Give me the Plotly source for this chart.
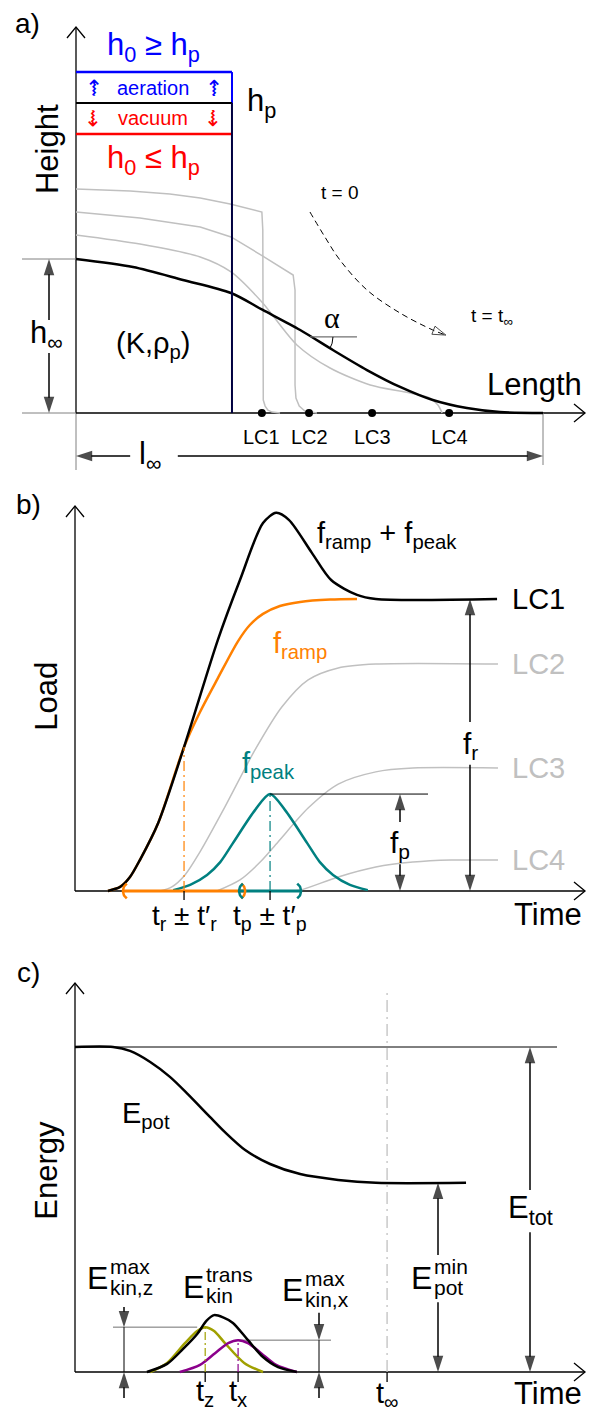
import numpy as np
import plotly.graph_objects as go

W, H = 589, 1414
FONT = "Liberation Sans"

# ---------------- Panel a: length in % of l_inf, height in % of h_inf ----------------
l_inf = 100.0
h_inf = 100.0
h_aer = 221.4      # top of aeration zone
h_p = 201.3        # plug height h_p
h_vac = 181.2      # bottom of vacuum zone
x_wall = 33.4      # column wall

final_x = [0, 12.2, 22.9, 33.2, 40.0, 48.0, 55.0, 62.3, 69.4, 76.4, 83.7, 90.8, 100]
final_y = [100, 94.8, 86.4, 77.9, 66.9, 53.9, 40.9, 27.9, 16.9, 8.4, 3.2, 0.6, 0]

lc1_x = [0, 11.6, 20.1, 26.6, 33.0, 39.8, 40.0, 40.0, 40.1, 40.5, 41.1, 42.0, 43.7]
lc1_y = [145.5, 144.2, 142.2, 139.6, 135.7, 130.5, 118.8, 14.9, 8.4, 4.5, 1.9, 0.6, 0]
lc2_x = [0, 13.7, 26.6, 33.2, 40.0, 46.5, 46.9, 46.9, 47.1, 47.8, 49.0, 51.6]
lc2_y = [130.5, 126.6, 120.8, 114.3, 101.9, 89.6, 79.9, 18.2, 9.7, 4.5, 1.3, 0]
lc3_x = [0, 13.7, 26.6, 33.2, 39.8, 47.3, 54.4, 63.0, 71.5, 75.8, 77.5, 78.4]
lc3_y = [115.6, 109.7, 101.3, 91.6, 72.1, 44.2, 29.2, 18.2, 13.0, 9.7, 5.2, 0]

time_arrow_x = [50.1, 53.3, 56.5, 62.3, 69.4, 76.4, 79.2]
time_arrow_y = [130.5, 114.3, 99.4, 79.9, 64.9, 53.9, 50.6]

lc_names = ["LC1", "LC2", "LC3", "LC4"]
lc_pos = [39.8, 49.9, 63.4, 79.9]

alpha_x, alpha_y, alpha_deg = 50.1, 49.4, 31.0

# ---------------- Panel b: time units, load in units of f_r ----------------
f_r = 1.0
f_p = 0.332
t_r, dt_r = 2.32, 1.30
t_p, dt_p = 4.15, 0.66

sum_x = [0.70, 0.96, 1.17, 1.38, 1.77, 2.32, 3.04, 3.51, 4.00, 4.28, 4.55, 5.04, 5.45, 6.00, 6.40, 8.98]
sum_y = [0, 0.014, 0.048, 0.106, 0.233, 0.493, 0.860, 1.065, 1.260, 1.295, 1.271, 1.158, 1.065, 1.014, 1.0, 1.0]
ramp_x = [0.70, 0.96, 1.17, 1.38, 1.77, 2.32, 2.66, 3.04, 3.47, 3.72, 4.00, 4.36, 4.79, 5.43, 6.00]
ramp_y = [0, 0.014, 0.048, 0.106, 0.233, 0.493, 0.613, 0.729, 0.856, 0.911, 0.949, 0.976, 0.990, 0.998, 1.0]
peak_x = [2.09, 2.45, 2.81, 3.09, 3.36, 3.83, 4.15, 4.47, 4.94, 5.21, 5.49, 5.85, 6.23]
peak_y = [0.003, 0.021, 0.055, 0.099, 0.164, 0.277, 0.332, 0.277, 0.164, 0.099, 0.055, 0.021, 0.003]
b_lc2_x = [1.81, 2.06, 2.34, 2.66, 3.19, 3.83, 4.40, 4.96, 5.60, 6.40, 9.00]
b_lc2_y = [0, 0.014, 0.055, 0.134, 0.288, 0.483, 0.630, 0.723, 0.764, 0.777, 0.777]
b_lc3_x = [3.02, 3.51, 3.94, 4.32, 4.96, 5.60, 6.40, 7.19, 9.00]
b_lc3_y = [0, 0.038, 0.099, 0.168, 0.284, 0.366, 0.408, 0.421, 0.421]
b_lc4_x = [4.57, 4.79, 5.60, 6.40, 7.19, 8.00, 9.00]
b_lc4_y = [0, 0.003, 0.048, 0.082, 0.099, 0.106, 0.106]
b_lc_levels = [1.0, 0.777, 0.421, 0.106]

# ---------------- Panel c: time units, energy in units of E_tot ----------------
E_tot = 1.0
E_pot_min = 0.582
t_z, t_x, t_inf = 2.77, 3.47, 6.64
Ekz_max, Ekx_max = 0.138, 0.098

epot_x = [0, 0.81, 1.17, 1.60, 2.02, 2.40, 2.87, 3.19, 3.62, 4.15, 4.79, 5.60, 6.40, 8.32]
epot_y = [1.0, 1.0, 0.988, 0.954, 0.908, 0.855, 0.785, 0.738, 0.683, 0.640, 0.609, 0.591, 0.582, 0.582]
ekin_x = [1.53, 1.96, 2.30, 2.60, 2.80, 2.96, 3.15, 3.36, 3.68, 4.00, 4.32, 4.72]
ekin_y = [0, 0.025, 0.071, 0.117, 0.158, 0.175, 0.168, 0.151, 0.098, 0.046, 0.015, 0]
ekz_x = [1.60, 1.96, 2.34, 2.60, 2.77, 2.96, 3.19, 3.60, 4.00]
ekz_y = [0, 0.028, 0.089, 0.126, 0.138, 0.126, 0.089, 0.028, 0]
ekx_x = [2.23, 2.66, 2.98, 3.26, 3.47, 3.68, 3.96, 4.28, 4.72]
ekx_y = [0, 0.022, 0.058, 0.089, 0.098, 0.089, 0.058, 0.022, 0]

ORANGE = "#ff8000"
TEAL = "#008080"
OLIVE = "#a0a000"
PURPLE = "#8b008b"
GRAY = "#c0c0c0"
BLUE = "#0000ff"
RED = "#ff0000"
NAVY = "#000040"

# ---------------- layout of the three panels (pixel frames) ----------------
P = {
    'a': dict(ox=76, oy=413, sx=4.67, sy=1.54, top=0, bottom=480, xa='x', ya='y'),
    'b': dict(ox=75, oy=891, sx=47.0, sy=292.0, top=480, bottom=950, xa='x2', ya='y2'),
    'c': dict(ox=75, oy=1372, sx=47.0, sy=325.0, top=950, bottom=1414, xa='x3', ya='y3'),
}

fig = go.Figure()


def dxp(p, px):
    return px / P[p]['sx']


def dyp(p, px):
    return px / P[p]['sy']


def line(p, xs, ys, color='black', width=1.5, dash=None, shape='linear', smoothing=1.0):
    fig.add_trace(go.Scatter(
        x=xs, y=ys, mode='lines', xaxis=P[p]['xa'], yaxis=P[p]['ya'],
        line=dict(color=color, width=width, dash=dash, shape=shape, smoothing=smoothing),
        hoverinfo='skip', showlegend=False))


def text(p, x, y, s, size=28, color='black', xanchor='center', yanchor='middle',
         angle=0, family=FONT, xshift=0, yshift=0):
    fig.add_annotation(x=x, y=y, xref=P[p]['xa'], yref=P[p]['ya'], text=s, showarrow=False,
                       font=dict(family=family, size=size, color=color),
                       xanchor=xanchor, yanchor=yanchor, textangle=angle,
                       xshift=xshift, yshift=yshift)


def arrow(p, x0, y0, x1, y1, color='black', width=1.5):
    fig.add_trace(go.Scatter(
        x=[x0, x1], y=[y0, y1], mode='lines+markers', xaxis=P[p]['xa'], yaxis=P[p]['ya'],
        line=dict(color=color, width=width),
        marker=dict(symbol='arrow', size=[0, 17], angleref='previous', color=color,
                    line=dict(width=0)),
        hoverinfo='skip', showlegend=False))


def axis_head(p, x, y, direction):
    if direction == 'up':
        xs = [x - dxp(p, 9), x, x + dxp(p, 9)]
        ys = [y - dyp(p, 11), y, y - dyp(p, 11)]
    else:
        xs = [x - dxp(p, 11), x, x - dxp(p, 11)]
        ys = [y + dyp(p, 9), y, y - dyp(p, 9)]
    line(p, xs, ys, width=1.3)


def stacked(p, x, y, base, sup, sub, size=32, ssize=21, yshift_sup=12, yshift_sub=-9):
    text(p, x, y, base, size, xanchor='right')
    text(p, x, y, sup, ssize, xanchor='left', yshift=yshift_sup, xshift=-2)
    text(p, x, y, sub, ssize, xanchor='left', yshift=yshift_sub, xshift=-2)


def bracket(p, x, y, side, color):
    r = 9.0
    if side == 'left':
        th = np.radians(np.linspace(125, 235, 20))
        cx = x + dxp(p, r)
    else:
        th = np.radians(np.linspace(-55, 55, 20))
        cx = x - dxp(p, r)
    line(p, list(cx + dxp(p, r) * np.cos(th)), list(y + dyp(p, r) * np.sin(th)), color=color, width=2.5)


# ======================= Panel a =======================
a_top = P['a']['oy'] / P['a']['sy'] - dyp('a', 27)
a_right = (585 - P['a']['ox']) / P['a']['sx']
a_left_ext = -dxp('a', 54)
a_low = -dyp('a', 57)
line('a', [0, 0], [a_low, 0], color='#808080', width=1)
line('a', [0, 0], [0, a_top], width=1.3)
axis_head('a', 0, a_top, 'up')
line('a', [a_left_ext, 0], [0, 0], color='#808080', width=1)
line('a', [0, a_right], [0, 0], width=1.5)
axis_head('a', a_right, 0, 'right')
line('a', [a_left_ext, 0], [h_inf, h_inf], color='#808080', width=1)
line('a', [l_inf, l_inf], [0, -dyp('a', 52)], color='#808080', width=1)

# gray intermediate profiles and final profile
line('a', lc1_x, lc1_y, color=GRAY, width=1.5)
line('a', lc2_x, lc2_y, color=GRAY, width=1.5)
line('a', lc3_x, lc3_y, color=GRAY, width=1.5, shape='spline', smoothing=0.8)
line('a', final_x, final_y, width=2.5, shape='spline', smoothing=0.8)

# column
line('a', [0, x_wall], [h_aer, h_aer], color=BLUE, width=2.5)
line('a', [x_wall, x_wall], [h_p, h_aer], color=BLUE, width=2)
line('a', [0, x_wall], [h_p, h_p], width=2)
line('a', [0, x_wall], [h_vac, h_vac], color=RED, width=2.5)
line('a', [x_wall, x_wall], [0, h_p], color=NAVY, width=2)

# LC markers
fig.add_trace(go.Scatter(x=lc_pos, y=[0] * len(lc_pos), mode='markers', xaxis='x', yaxis='y',
                         marker=dict(color='black', size=8), hoverinfo='skip', showlegend=False))
for nm, xp in zip(lc_names, lc_pos):
    text('a', xp, -dyp('a', 24), nm, 20)

# time arrow (dashed)
line('a', time_arrow_x, time_arrow_y, width=1, dash='6px,4px', shape='spline')
fig.add_trace(go.Scatter(x=time_arrow_x[-2:], y=time_arrow_y[-2:], mode='markers', xaxis='x', yaxis='y',
                         marker=dict(symbol='arrow-open', size=[0, 14], angleref='previous',
                                     color='black', line=dict(width=1, color='black')),
                         hoverinfo='skip', showlegend=False))
text('a', 56.5, 142.9, "t = 0", 19)
text('a', 89.1, 62.3, "t = t<sub>∞</sub>", 19)

# alpha
line('a', [alpha_x, alpha_x + dxp('a', 47)], [alpha_y, alpha_y], color='#707070', width=1.3)
th = np.radians(np.linspace(0, alpha_deg, 15))
line('a', list(alpha_x + dxp('a', 23) * np.cos(th)), list(alpha_y - dyp('a', 23) * np.sin(th)), width=1)
text('a', 54.8, 62.3, "α", 30, family="Liberation Serif")

# dimension arrows
hx = -dxp('a', 27)
arrow('a', hx, 60.4, hx, h_inf)
arrow('a', hx, 39.0, hx, 0)
text('a', -6.4, 50.6, "h<sub>∞</sub>", 31)
ly = -dyp('a', 43)
arrow('a', 11.6, ly, 0, ly)
arrow('a', 21.8, ly, l_inf, ly)
text('a', 15.8, ly, "l<sub>∞</sub>", 31)

# labels
text('a', -10.3, 253.2, "a)", 28)
text('a', -6.2, 171.4, "Height", 31, angle=-90)
text('a', 16.5, 237.7, "h<sub>0</sub> ≥ h<sub>p</sub>", 31, color=BLUE)
text('a', 16.5, 211.0, "aeration", 20, color=BLUE)
text('a', 16.5, 191.6, "vacuum", 20, color=RED)
for xa_ in (3.6, 29.3):
    text('a', xa_, 211.0, "⇝", 22, color=BLUE, angle=-90, family="DejaVu Sans")
    text('a', xa_, 191.6, "⇝", 22, color=RED, angle=90, family="DejaVu Sans")
text('a', 16.5, 164.3, "h<sub>0</sub> ≤ h<sub>p</sub>", 31, color=RED)
text('a', 36.2, h_p, "h<sub>p</sub>", 31, xanchor='left')
text('a', 16.5, 44.2, "(K,ρ<sub>p</sub>)", 29)
text('a', 98.1, 18.2, "Length", 31)

# ======================= Panel b =======================
b_top = dyp('b', 891 - 506)
b_right = dxp('b', 585 - 75)
line('b', [0, 0], [0, b_top], width=1.3)
axis_head('b', 0, b_top, 'up')
line('b', [0, b_right], [0, 0], width=1.5)
axis_head('b', b_right, 0, 'right')

line('b', b_lc2_x, b_lc2_y, color=GRAY, width=1.5, shape='spline', smoothing=0.8)
line('b', b_lc3_x, b_lc3_y, color=GRAY, width=1.5, shape='spline', smoothing=0.8)
line('b', b_lc4_x, b_lc4_y, color=GRAY, width=1.5, shape='spline', smoothing=0.8)
line('b', ramp_x, ramp_y, color=ORANGE, width=2.5, shape='spline', smoothing=0.8)
line('b', sum_x, sum_y, width=2.5, shape='spline', smoothing=0.8)
line('b', peak_x, peak_y, color=TEAL, width=2.5, shape='spline', smoothing=0.8)

# intervals on the time axis
line('b', [t_r - dt_r, t_r + dt_r], [0, 0], color=ORANGE, width=3)
line('b', [t_p - dt_p, t_p + dt_p], [0, 0], color=TEAL, width=3)
bracket('b', t_r - dt_r, 0, 'left', ORANGE)
bracket('b', t_r + dt_r, 0, 'right', ORANGE)
bracket('b', t_p - dt_p, 0, 'left', TEAL)
bracket('b', t_p + dt_p, 0, 'right', TEAL)

# center lines
line('b', [t_r, t_r], [0, 0.493], color=ORANGE, width=1.2, dash='10px,4px,2px,4px')
line('b', [t_p, t_p], [0, f_p], color=TEAL, width=1.2, dash='10px,4px,2px,4px')
for tt in (t_r, t_p):
    line('b', [tt, tt], [0, -dyp('b', 9)], width=1.3)

# peak reference + arrows
line('b', [t_p, dxp('b', 428 - 75)], [f_p, f_p], width=1)
fpx = dxp('b', 400 - 75)
arrow('b', fpx, 0.236, fpx, f_p)
arrow('b', fpx, 0.092, fpx, 0)
text('b', fpx, 0.158, "f<sub>p</sub>", 30)
frx = dxp('b', 470 - 75)
arrow('b', frx, 0.579, frx, f_r)
arrow('b', frx, 0.432, frx, 0)
text('b', frx, 0.50, "f<sub>r</sub>", 30)

# labels
text('b', -1.0, 1.325, "b)", 28)
text('b', -0.60, 0.668, "Load", 31, angle=-90)
text('b', 5.11, 1.22, "f<sub>ramp</sub> + f<sub>peak</sub>", 29, xanchor='left')
text('b', 4.79, 0.842, "f<sub>ramp</sub>", 29, color=ORANGE)
text('b', 4.11, 0.432, "f<sub>peak</sub>", 29, color=TEAL)
for i, (nm, lv) in enumerate(zip(lc_names, b_lc_levels)):
    text('b', 9.26, lv, nm, 29, color='black' if i == 0 else GRAY, xanchor='left')
text('b', t_r, -0.09, "t<sub>r</sub> ± t′<sub>r</sub>", 28)
text('b', t_p, -0.09, "t<sub>p</sub> ± t′<sub>p</sub>", 28)
text('b', 10.06, -0.08, "Time", 31)

# ======================= Panel c =======================
c_top = dyp('c', 1372 - 983)
c_right = dxp('c', 585 - 75)
line('c', [0, 0], [0, c_top], width=1.3)
axis_head('c', 0, c_top, 'up')
line('c', [0, c_right], [0, 0], width=1.5)
axis_head('c', c_right, 0, 'right')

line('c', [0, dxp('c', 557 - 75)], [E_tot, E_tot], width=1)
line('c', [t_inf, t_inf], [0, dyp('c', 1372 - 990)], color=GRAY, width=1.3, dash='12px,5px,2px,5px')
line('c', epot_x, epot_y, width=2.5, shape='spline', smoothing=0.8)

# kinetic energy
line('c', [dxp('c', 113 - 75), t_z - 0.17], [Ekz_max, Ekz_max], color='#707070', width=1)
line('c', [t_x, dxp('c', 331 - 75)], [Ekx_max, Ekx_max], color='#707070', width=1)
line('c', ekz_x, ekz_y, color=OLIVE, width=2.5, shape='spline', smoothing=0.8)
line('c', ekx_x, ekx_y, color=PURPLE, width=2.5, shape='spline', smoothing=0.8)
line('c', ekin_x, ekin_y, width=2.5, shape='spline', smoothing=0.8)
line('c', [t_z, t_z], [0, Ekz_max], color=OLIVE, width=1.2, dash='8px,3px,2px,3px')
line('c', [t_x, t_x], [0, Ekx_max], color=PURPLE, width=1.2, dash='8px,3px,2px,3px')
for tt in (t_z, t_x, t_inf):
    line('c', [tt, tt], [0, -dyp('c', 10)], width=1.3)

kzx = dxp('c', 124 - 75)
kxx = dxp('c', 319 - 75)
line('c', [kzx, kzx], [0, Ekz_max], width=1)
line('c', [kxx, kxx], [0, Ekx_max], width=1)
arrow('c', kzx, 0.20, kzx, Ekz_max)
arrow('c', kzx, -0.08, kzx, 0)
arrow('c', kxx, 0.182, kxx, Ekx_max)
arrow('c', kxx, -0.08, kxx, 0)

emx = dxp('c', 438 - 75)
arrow('c', emx, 0.36, emx, E_pot_min)
arrow('c', emx, 0.215, emx, 0)
etx = dxp('c', 530 - 75)
arrow('c', etx, 0.56, etx, E_tot)
arrow('c', etx, 0.43, etx, 0)

# labels
text('c', -1.0, 1.228, "c)", 28)
text('c', -0.60, 0.622, "Energy", 31, angle=-90)
text('c', 1.51, 0.791, "E<sub>pot</sub>", 29)
text('c', etx, 0.498, "E<sub>tot</sub>", 31)
stacked('c', dxp('c', 434 - 75), 0.289, "E", "min", "pot")
stacked('c', dxp('c', 110 - 75), 0.289, "E", "max", "kin,z")
stacked('c', dxp('c', 206 - 75), 0.262, "E", "trans", "kin")
stacked('c', dxp('c', 305 - 75), 0.252, "E", "max", "kin,x")
text('c', t_z, -0.066, "t<sub>z</sub>", 29)
text('c', t_x, -0.066, "t<sub>x</sub>", 29)
text('c', t_inf, -0.072, "t<sub>∞</sub>", 29)
text('c', 10.06, -0.066, "Time", 31)

# ---------------- axes setup ----------------
lay = {}
for k, name in (('a', ''), ('b', '2'), ('c', '3')):
    p = P[k]
    xr = [(0 - p['ox']) / p['sx'], (W - p['ox']) / p['sx']]
    yr = [(p['oy'] - p['bottom']) / p['sy'], (p['oy'] - p['top']) / p['sy']]
    dom = [1 - p['bottom'] / H, 1 - p['top'] / H]
    lay['xaxis' + name] = dict(domain=[0, 1], range=xr, visible=False, anchor='y' + name, fixedrange=True)
    lay['yaxis' + name] = dict(domain=dom, range=yr, visible=False, anchor='x' + name, fixedrange=True)

fig.update_layout(width=W, height=H, margin=dict(l=0, r=0, t=0, b=0),
                  paper_bgcolor='white', plot_bgcolor='white', showlegend=False,
                  font=dict(family=FONT), **lay)

fig.write_html("out.html")
